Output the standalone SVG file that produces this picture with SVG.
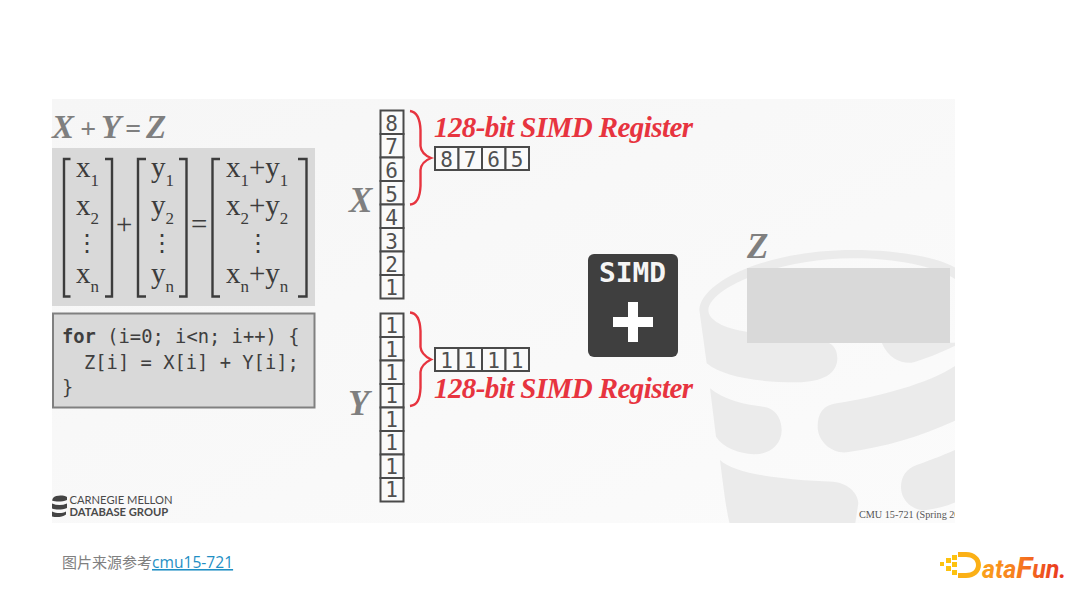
<svg xmlns="http://www.w3.org/2000/svg" width="1080" height="608" viewBox="0 0 1080 608">
<style>
.ti{font-family:"Liberation Serif",serif;font-weight:bold;font-style:italic;fill:#7f7f7f}
.red{font-family:"Liberation Serif",serif;font-weight:bold;font-style:italic;fill:#e7343f;font-size:29px}
.m{font-family:"Liberation Serif",serif;font-size:29px;fill:#3c3c3c}
.s{font-size:17px}
.d{font-family:"DejaVu Sans",sans-serif;font-size:24px;fill:#3c3c3c;text-anchor:middle}
.br{fill:none;stroke:#3c3c3c;stroke-width:2.4}
.code{font-family:"DejaVu Sans Mono",monospace;font-size:18.8px;fill:#3f3f3f}
.cell{fill:#fafafa;stroke:#4a4a4a;stroke-width:2}
.n{font-family:"DejaVu Sans Mono",monospace;font-size:21px;fill:#505050;text-anchor:middle}
.brace{fill:none;stroke:#e7343f;stroke-width:2.4}
.bk{fill:#ebebeb}
.logo{fill:#4a4a4a;font-family:"Lato",sans-serif;font-size:11.2px}
</style>
<defs>
<linearGradient id="bg" x1="0" y1="0" x2="1" y2="1"><stop offset="0" stop-color="#f6f6f6"/><stop offset="1" stop-color="#fbfbfb"/></linearGradient>
<linearGradient id="df" gradientUnits="userSpaceOnUse" x1="975" y1="0" x2="1065" y2="0"><stop offset="0" stop-color="#fba919"/><stop offset="0.5" stop-color="#f6791f"/><stop offset="1" stop-color="#e8321e"/></linearGradient>
<clipPath id="slide"><rect x="52" y="99" width="903" height="424"/></clipPath>
</defs>
<rect width="1080" height="608" fill="#ffffff"/>
<rect x="52" y="99" width="903" height="424" fill="url(#bg)"/>

<g id="bucket" clip-path="url(#slide)">
<g transform="translate(680 220) scale(0.33333)">
<path class="bk" d="M58 270C60 190 250 90 520 90C650 90 770 110 830 145L830 180C770 140 650 115 520 115C300 115 90 200 85 270C85 300 130 325 200 335L440 365C465 375 472 395 472 415C472 460 430 487 350 487C230 487 130 470 80 430Z"/>
<path class="bk" d="M605 368C625 415 660 430 695 428C730 420 790 395 830 375L830 368Z"/>
<path class="bk" d="M90 505C130 540 200 555 250 560C290 565 305 600 305 630C305 680 260 705 220 703C180 700 130 685 108 650Z"/>
<path class="bk" d="M470 550C600 530 750 490 830 435L830 600C720 650 620 680 500 697C450 700 413 660 413 620C413 580 430 555 470 550Z"/>
<path class="bk" d="M120 720C160 760 300 780 460 785C510 790 535 825 535 850L525 915L150 915C140 880 130 800 120 720Z"/>
<path class="bk" d="M830 688C780 710 740 725 710 735C680 745 663 770 663 800C663 850 710 875 740 870C770 865 800 860 830 845Z"/>
</g>
</g>

<g id="equation">
<text class="ti" x="52" y="138" font-size="33">X</text>
<text class="ti" x="80" y="138" font-size="28">+</text>
<text class="ti" x="101" y="138" font-size="33">Y</text>
<text class="ti" x="125" y="138" font-size="28">=</text>
<text class="ti" x="146" y="138" font-size="33">Z</text>
</g>

<g id="matrix">
<rect x="52" y="148" width="263" height="158" fill="#d9d9d9"/>
<path class="br" d="M70.500 159H64V296.500H70.500M105 159H112V296.500H105M146 159H138V296.500H146M179 159H186.500V296.500H179M220 159H212.500V296.500H220M298 159H306.500V296.500H298"/>
<text class="m" x="76" y="177">x<tspan class="s" dy="9">1</tspan></text>
<text class="m" x="76" y="215">x<tspan class="s" dy="9">2</tspan></text>
<text class="d" x="87" y="251">⋮</text>
<text class="m" x="76" y="283">x<tspan class="s" dy="9">n</tspan></text>
<text class="m" x="151" y="177">y<tspan class="s" dy="9">1</tspan></text>
<text class="m" x="151" y="215">y<tspan class="s" dy="9">2</tspan></text>
<text class="d" x="162" y="251">⋮</text>
<text class="m" x="151" y="283">y<tspan class="s" dy="9">n</tspan></text>
<text class="m" x="226" y="177">x<tspan class="s" dy="9">1</tspan><tspan dy="-9">+y</tspan><tspan class="s" dy="9">1</tspan></text>
<text class="m" x="226" y="215">x<tspan class="s" dy="9">2</tspan><tspan dy="-9">+y</tspan><tspan class="s" dy="9">2</tspan></text>
<text class="d" x="258" y="251">⋮</text>
<text class="m" x="226" y="283">x<tspan class="s" dy="9">n</tspan><tspan dy="-9">+y</tspan><tspan class="s" dy="9">n</tspan></text>
<text class="m" x="116" y="234">+</text>
<text class="m" x="191" y="234">=</text>
</g>

<g id="code">
<rect x="53" y="313.500" width="261.500" height="94" fill="#d9d9d9" stroke="#808080" stroke-width="2"/>
<text class="code" x="62" y="343"><tspan font-weight="bold">for</tspan> (i=0; i&lt;n; i++) {</text>
<text class="code" x="84" y="369">Z[i] = X[i] + Y[i];</text>
<text class="code" x="62" y="394">}</text>
</g>

<g id="x-column">
<text class="ti" x="349" y="212" font-size="35">X</text>
<rect class="cell" x="380.500" y="110.500" width="23" height="23.500"/>
<rect class="cell" x="380.500" y="134" width="23" height="23.500"/>
<rect class="cell" x="380.500" y="157.500" width="23" height="23.500"/>
<rect class="cell" x="380.500" y="181" width="23" height="23.500"/>
<rect class="cell" x="380.500" y="204.500" width="23" height="23.500"/>
<rect class="cell" x="380.500" y="228" width="23" height="23.500"/>
<rect class="cell" x="380.500" y="251.500" width="23" height="23.500"/>
<rect class="cell" x="380.500" y="275" width="23" height="23.500"/>
<text class="n" x="391.500" y="131">8</text><text class="n" x="391.500" y="154">7</text><text class="n" x="391.500" y="178">6</text><text class="n" x="391.500" y="202">5</text><text class="n" x="391.500" y="225">4</text><text class="n" x="391.500" y="249">3</text><text class="n" x="391.500" y="272">2</text><text class="n" x="391.500" y="295">1</text>
</g>

<g id="y-column">
<text class="ti" x="348" y="415" font-size="35">Y</text>
<rect class="cell" x="380.500" y="313.500" width="23" height="23.500"/>
<rect class="cell" x="380.500" y="337" width="23" height="23.500"/>
<rect class="cell" x="380.500" y="360.500" width="23" height="23.500"/>
<rect class="cell" x="380.500" y="384" width="23" height="23.500"/>
<rect class="cell" x="380.500" y="407.500" width="23" height="23.500"/>
<rect class="cell" x="380.500" y="431" width="23" height="23.500"/>
<rect class="cell" x="380.500" y="454.500" width="23" height="23.500"/>
<rect class="cell" x="380.500" y="478" width="23" height="23.500"/>
<text class="n" x="391.500" y="333">1</text><text class="n" x="391.500" y="357">1</text><text class="n" x="391.500" y="380">1</text><text class="n" x="391.500" y="403">1</text><text class="n" x="391.500" y="427">1</text><text class="n" x="391.500" y="450">1</text><text class="n" x="391.500" y="474">1</text><text class="n" x="391.500" y="497">1</text>
</g>

<g id="connectors">
<path class="brace" d="M410 111C417 112 420 118 420.500 130V146C421 152 426 156 431 158C426 160 421 164 420.500 170V186C420 198 417 204 410 204.500"/>
<path class="brace" d="M410 312.500C417 313 420 319 420.500 331V347C421 353 426 357 431 359.500C426 362 421 366 420.500 372V388C420 400 417 405 410 406"/>
</g>

<g id="x-register">
<text class="red" x="434" y="137" textLength="259" lengthAdjust="spacing">128-bit SIMD Register</text>
<rect class="cell" x="435" y="147" width="23.500" height="23"/>
<rect class="cell" x="458.500" y="147" width="23.500" height="23"/>
<rect class="cell" x="482" y="147" width="23.500" height="23"/>
<rect class="cell" x="505.500" y="147" width="23.500" height="23"/>
<text class="n" x="446.500" y="166.500">8</text><text class="n" x="470" y="166.500">7</text><text class="n" x="493.500" y="166.500">6</text><text class="n" x="517" y="166.500">5</text>
</g>

<g id="y-register">
<rect class="cell" x="435" y="348" width="23.500" height="23"/>
<rect class="cell" x="458.500" y="348" width="23.500" height="23"/>
<rect class="cell" x="482" y="348" width="23.500" height="23"/>
<rect class="cell" x="505.500" y="348" width="23.500" height="23"/>
<text class="n" x="446.500" y="367.500">1</text><text class="n" x="470" y="367.500">1</text><text class="n" x="493.500" y="367.500">1</text><text class="n" x="517" y="367.500">1</text>
<text class="red" x="434" y="398" textLength="259" lengthAdjust="spacing">128-bit SIMD Register</text>
</g>

<g id="simd">
<rect x="588" y="254" width="90" height="103" rx="6" fill="#3f3f3f"/>
<text x="599" y="282" font-family="DejaVu Sans Mono, monospace" font-weight="bold" font-size="27" fill="#f5f5f5" textLength="67" lengthAdjust="spacingAndGlyphs">SIMD</text>
<path d="M613 317H628V302H638V317H653V327H638V342H628V327H613Z" fill="#ffffff"/>
</g>

<g id="z">
<text class="ti" x="747" y="258" font-size="35">Z</text>
<rect x="747" y="268" width="203" height="75" fill="#d9d9d9"/>
</g>

<g id="slide-footer" clip-path="url(#slide)">
<path d="M53 498C56 495 63 495 67 497V500C62 502 56 502 52 500.500ZM52 503.500C57 505.500 62 505.500 67 503.500V508C62 510 56 510 52 508.500ZM52 511.500C57 513.500 62 513.500 66 511.500V514.500C62 517.500 56 517.500 52 516.500Z" fill="#444444"/>
<text class="logo"><tspan x="69.500" y="504">CARNEGIE MELLON</tspan><tspan x="69.500" y="516" font-weight="bold">DATABASE GROUP</tspan></text>
<text x="859" y="518" font-family="Liberation Serif, serif" font-size="10.200" fill="#555555">CMU 15-721 (Spring 2016)</text>
</g>

<g id="caption">
<text x="62" y="568" font-family="Noto Sans CJK SC, sans-serif" font-size="15" fill="#808080">图片来源参考<tspan fill="#1f8fc4" text-decoration="underline" font-family="Open Sans, sans-serif" font-size="15.600">cmu15-721</tspan></text>
</g>

<g id="datafun-logo">
<path d="M940 562h4v4h-4ZM946 558h5v5h-5ZM946 566h5v5h-5ZM952 555h5v5h-5ZM952 562h5v5h-5ZM952 570h5v5h-5Z" fill="#fdc20f"/>
<path d="M958 552H966C975 552 981 558 981 565C981 572 975 578 966 578H958V573H966C972 573 976 570 976 565C976 560 972 557 966 557H958Z" fill="#fbb016"/>
<text x="982" y="578" font-family="Roboto, sans-serif" font-weight="bold" font-style="italic" font-size="25" fill="url(#df)">ata<tspan font-size="30">F</tspan>un.</text>
</g>
</svg>
